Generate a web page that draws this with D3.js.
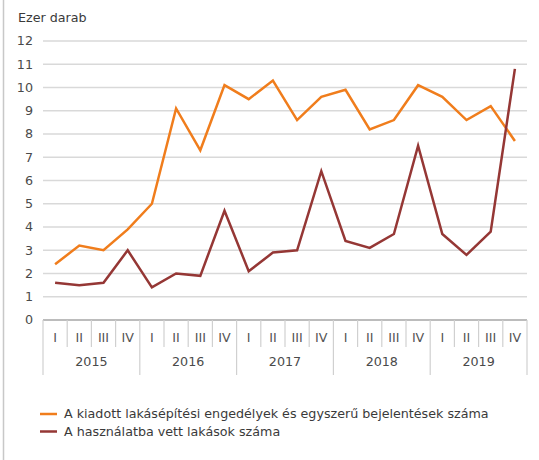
<!DOCTYPE html>
<html>
<head>
<meta charset="utf-8">
<script src="https://cdn.jsdelivr.net/npm/d3@7"></script>
<style>
  body { margin: 0; background: #fff; }
  svg { display: block; font-family: "DejaVu Sans", Verdana, sans-serif; }
</style>
</head>
<body>
<div id="chart"></div>
<script>
// quarters and years on the x axis
var quarters = ["I", "II", "III", "IV"];
var years = ["2015", "2016", "2017", "2018", "2019"];

// values in thousands
var permits = [2.4, 3.2, 3.0, 3.9, 5.0, 9.1, 7.3, 10.1, 9.5, 10.3, 8.6, 9.6, 9.9, 8.2, 8.6, 10.1, 9.6, 8.6, 9.2, 7.7];
var completed = [1.6, 1.5, 1.6, 3.0, 1.4, 2.0, 1.9, 4.7, 2.1, 2.9, 3.0, 6.4, 3.4, 3.1, 3.7, 7.5, 3.7, 2.8, 3.8, 10.8];

var seriesNames = [
  "A kiadott lakásépítési engedélyek és egyszerű bejelentések száma",
  "A használatba vett lakások száma"
];
var seriesColors = ["#f07d1c", "#953735"];
var yTicks = [0, 1, 2, 3, 4, 5, 6, 7, 8, 9, 10, 11, 12];

var width = 539, height = 460;
var margin = { top: 41, right: 12, bottom: 140, left: 43 };
var fs = 12.7;

var categories = [];
years.forEach(function (y) {
  quarters.forEach(function (q) { categories.push(y + "-" + q); });
});

var svg = d3.select("#chart").append("svg")
  .attr("width", width)
  .attr("height", height);

// left frame line
svg.append("line")
  .attr("x1", 3.5).attr("x2", 3.5)
  .attr("y1", 0).attr("y2", height)
  .attr("stroke", "#c8c8c8").attr("stroke-width", 1.5);

var x = d3.scaleBand()
  .domain(categories)
  .range([margin.left, 527]);

var y = d3.scaleLinear()
  .domain([0, 12])
  .range([320, margin.top]);

// grid lines
svg.append("g")
  .selectAll("line")
  .data(yTicks.filter(function (d) { return d > 0; }))
  .enter().append("line")
  .attr("x1", margin.left).attr("x2", 527)
  .attr("y1", function (d) { return y(d); })
  .attr("y2", function (d) { return y(d); })
  .attr("stroke", "#d9d9d9").attr("stroke-width", 1.5);

// y labels
svg.append("g")
  .selectAll("text")
  .data(yTicks)
  .enter().append("text")
  .attr("x", 33)
  .attr("y", function (d) { return y(d); })
  .attr("dy", "0.35em")
  .attr("text-anchor", "end")
  .attr("font-size", fs)
  .attr("fill", "#4a4a4a")
  .text(function (d) { return d; });

svg.append("text")
  .attr("x", 18).attr("y", 22)
  .attr("font-size", fs)
  .attr("fill", "#3a3a3a")
  .text("Ezer darab");

// x axis baseline
svg.append("line")
  .attr("x1", margin.left).attr("x2", 527)
  .attr("y1", 320).attr("y2", 320)
  .attr("stroke", "#a6a6a6").attr("stroke-width", 1.5);

// quarter tick separators
var bw = x.bandwidth();
svg.append("g")
  .selectAll("line")
  .data(categories)
  .enter().append("line")
  .attr("x1", function (d) { return x(d); })
  .attr("x2", function (d) { return x(d); })
  .attr("y1", 320)
  .attr("y2", function (d, i) { return i % 4 === 0 ? 375 : 347; })
  .attr("stroke", "#d0d0d0").attr("stroke-width", 1.2);

svg.append("line")
  .attr("x1", 527).attr("x2", 527)
  .attr("y1", 320).attr("y2", 375)
  .attr("stroke", "#d0d0d0").attr("stroke-width", 1.2);

// quarter labels
svg.append("g")
  .selectAll("text")
  .data(categories)
  .enter().append("text")
  .attr("x", function (d) { return x(d) + bw / 2; })
  .attr("y", 338)
  .attr("dy", "0.35em")
  .attr("text-anchor", "middle")
  .attr("font-size", fs)
  .attr("fill", "#555")
  .text(function (d) { return d.split("-")[1]; });

// year labels
svg.append("g")
  .selectAll("text")
  .data(years)
  .enter().append("text")
  .attr("x", function (d) { return x(d + "-I") + bw * 2; })
  .attr("y", 362)
  .attr("dy", "0.35em")
  .attr("text-anchor", "middle")
  .attr("font-size", fs)
  .attr("fill", "#4a4a4a")
  .text(function (d) { return d; });

// lines
var line = d3.line()
  .x(function (d, i) { return x(categories[i]) + bw / 2; })
  .y(function (d) { return y(d); });

[permits, completed].forEach(function (s, k) {
  svg.append("path")
    .datum(s)
    .attr("fill", "none")
    .attr("stroke", seriesColors[k])
    .attr("stroke-width", 2.5)
    .attr("stroke-linejoin", "miter")
    .attr("d", line);
});

// legend
var legend = svg.append("g")
  .selectAll("g")
  .data(seriesNames)
  .enter().append("g")
  .attr("transform", function (d, i) { return "translate(0," + (414 + i * 17.5) + ")"; });

legend.append("line")
  .attr("x1", 40).attr("x2", 57)
  .attr("y1", 0).attr("y2", 0)
  .attr("stroke", function (d, i) { return seriesColors[i]; })
  .attr("stroke-width", 2.5);

legend.append("text")
  .attr("x", 64).attr("y", 0)
  .attr("dy", "0.35em")
  .attr("font-size", fs)
  .attr("fill", "#3a3a3a")
  .text(function (d) { return d; });
</script>
</body>
</html>
